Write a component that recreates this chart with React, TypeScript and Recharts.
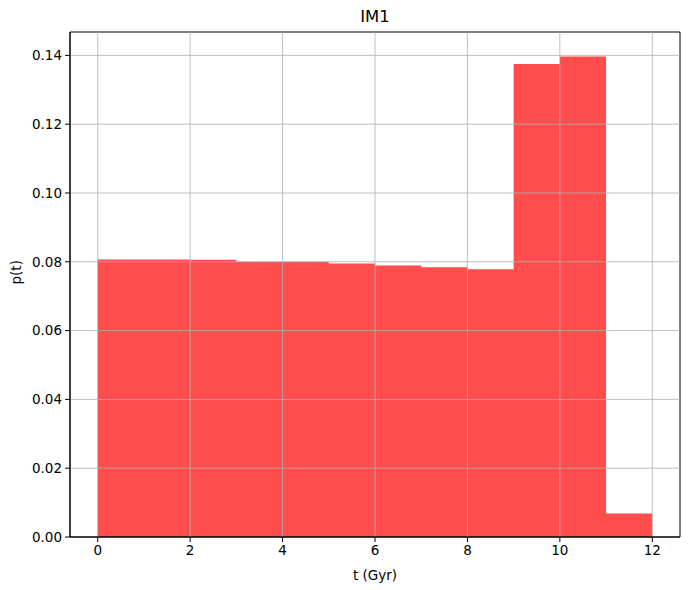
import React from 'react';
import { ComposedChart, Area, XAxis, YAxis, ReferenceLine, ReferenceArea } from 'recharts';

const binEdges = [0, 1, 2, 3, 4, 5, 6, 7, 8, 9, 10, 11, 12];
const binValues = [0.0807, 0.0807, 0.0806, 0.0800, 0.0800, 0.0795, 0.0789, 0.0784, 0.0778, 0.1375, 0.1397, 0.0068];
const xTicks = [0, 2, 4, 6, 8, 10, 12];
const yTicks = [0, 0.02, 0.04, 0.06, 0.08, 0.1, 0.12, 0.14];
const xDomain: [number, number] = [-0.6, 12.6];
const yDomain: [number, number] = [0, 0.1468];

const data = binEdges.map((t, i) => ({ t, p: binValues[Math.min(i, binValues.length - 1)] }));

const font = 'DejaVu Sans, sans-serif';

export default function App() {
  return (
    <div style={{ position: 'absolute', left: 0, top: 0, width: 690, height: 590, background: '#fff', fontFamily: font }}>
      <ComposedChart width={690} height={590} data={data} margin={{ top: 32, right: 10, bottom: 23, left: 10 }}>
        <XAxis
          dataKey="t"
          type="number"
          domain={xDomain}
          ticks={xTicks}
          allowDataOverflow
          height={30}
          tickSize={5}
          tickMargin={3}
          stroke="#000"
          tick={{ fill: '#000', fontSize: 13.5, fontFamily: font }}
          label={{ value: 't (Gyr)', position: 'insideBottom', offset: -13, fill: '#000', fontSize: 13.5, fontFamily: font }}
        />
        <YAxis
          type="number"
          domain={yDomain}
          ticks={yTicks}
          allowDataOverflow
          width={60}
          tickSize={5}
          tickMargin={3}
          stroke="#000"
          tickFormatter={(v: number) => v.toFixed(2)}
          tick={{ fill: '#000', fontSize: 13.5, fontFamily: font }}
          label={{ value: 'p(t)', angle: -90, position: 'insideLeft', offset: 6, fill: '#000', fontSize: 13.5, fontFamily: font }}
        />
        <Area
          type="stepAfter"
          dataKey="p"
          stroke="none"
          fill="#ff0000"
          fillOpacity={0.7}
          isAnimationActive={false}
          dot={false}
          activeDot={false}
        />
        {xTicks.map((v) => (
          <ReferenceLine key={'gx' + v} x={v} stroke="#b0b0b0" strokeWidth={0.8} />
        ))}
        {yTicks.filter((v) => v > 0).map((v) => (
          <ReferenceLine key={'gy' + v} y={v} stroke="#b0b0b0" strokeWidth={0.8} />
        ))}
        <ReferenceArea x1={xDomain[0]} x2={xDomain[1]} y1={yDomain[0]} y2={yDomain[1]} fill="none" stroke="#000" strokeWidth={1} ifOverflow="visible" />
        <text x={375} y={22} textAnchor="middle" fontSize={16.5} fontFamily={font} fill="#000">IM1</text>
      </ComposedChart>
    </div>
  );
}
